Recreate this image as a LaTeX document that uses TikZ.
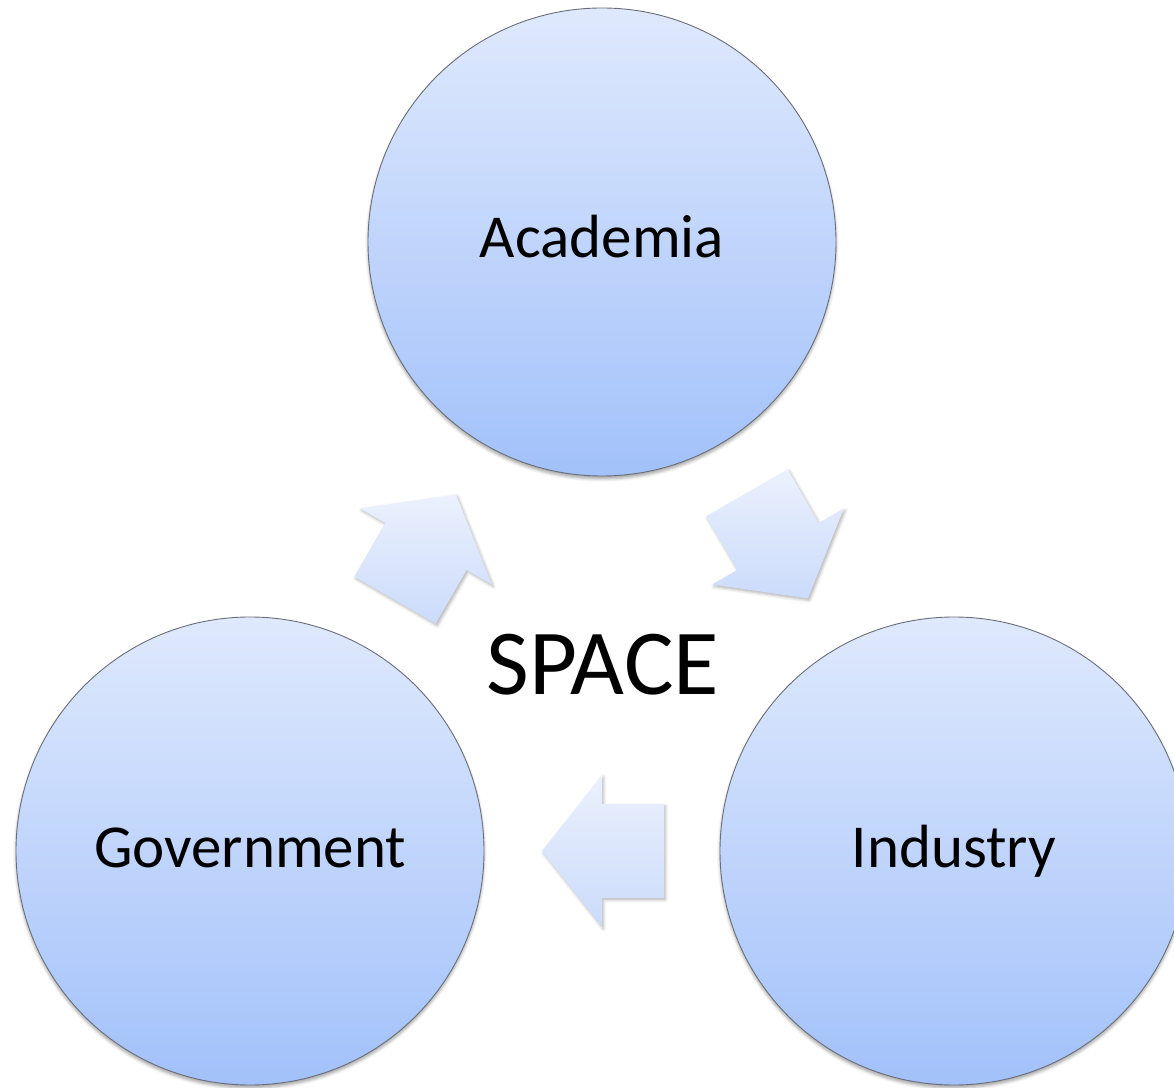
\documentclass[tikz,border=0pt]{standalone}
\usepackage{fontspec}
\setmainfont{Carlito}
\usetikzlibrary{calc,shadows.blur}

\definecolor{disctop}{HTML}{DFE9FD}
\definecolor{discbottom}{HTML}{A2C1FA}
\definecolor{discline}{HTML}{6A6E78}
\definecolor{arrowtop}{HTML}{EBF1FD}
\definecolor{arrowbottom}{HTML}{CBDBFB}

\begin{document}
\begin{tikzpicture}
        [x = 1pt, y = 1pt,
         disc/.style = {circle, draw = discline, line width = 0.9pt,
                        minimum size = 468pt, inner sep = 0pt,
                        top color = disctop, bottom color = discbottom,
                        blur shadow = {shadow xshift = 0pt, shadow yshift = -3pt,
                                       shadow blur radius = 3pt, shadow opacity = 35},
                        font = \fontsize{61}{72}\selectfont,
                        text height = 40pt, text depth = 8pt},
         cyclearrow/.pic = {
           \path[top color = arrowtop, bottom color = arrowbottom,
                 blur shadow = {shadow xshift = 1.5pt, shadow yshift = -2pt,
                                shadow blur radius = 3pt, shadow opacity = 30}]
             (-62,-47) -- (0,-47) -- (0,-76) -- (60,0) -- (0,76) -- (0,47)
             -- (-62,47) -- cycle;
         }]
        \useasboundingbox (0,0) rectangle (1174,1087);
        \node[disc] (aca) at (602,845) {Academia};
        \node[disc] (gov) at (250,236) {Government};
        \node[disc] (ind) at (954,236) {Industry};
        \node[font = \fontsize{93}{105}\selectfont, anchor = base] (space) at (603,392) {SPACE};
        % arrows going round the cycle
        \pic[rotate = 60] at ($(gov)!0.5!(aca)$) {cyclearrow};
        \pic[rotate = -60] at ($(aca)!0.5!(ind)$) {cyclearrow};
        \pic[rotate = 180] at ($(ind)!0.5!(gov)$) {cyclearrow};
      \end{tikzpicture}
\end{document}
